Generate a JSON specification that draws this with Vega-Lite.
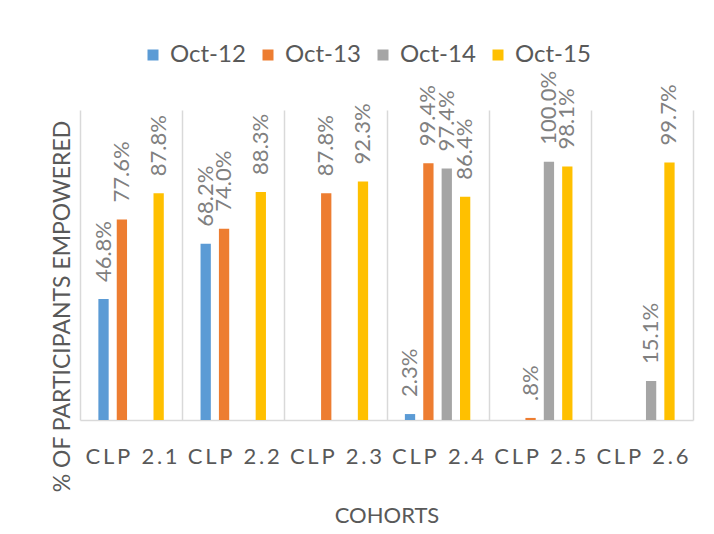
{
  "$schema": "https://vega.github.io/schema/vega-lite/v6.json",
  "autosize": {"type": "none"},
  "width": 613,
  "height": 310,
  "padding": {"left": 80, "top": 110, "right": 21, "bottom": 114},
  "background": "white",
  "config": {
    "font": "Lato",
    "view": {"stroke": null}
  },
  "data": {
    "values": [
      {"cohort": "CLP 2.1", "period": "Oct-12", "value": 0.468, "label": "46.8%"},
      {"cohort": "CLP 2.1", "period": "Oct-13", "value": 0.776, "label": "77.6%"},
      {"cohort": "CLP 2.1", "period": "Oct-15", "value": 0.878, "label": "87.8%"},
      {"cohort": "CLP 2.2", "period": "Oct-12", "value": 0.682, "label": "68.2%"},
      {"cohort": "CLP 2.2", "period": "Oct-13", "value": 0.740, "label": "74.0%"},
      {"cohort": "CLP 2.2", "period": "Oct-15", "value": 0.883, "label": "88.3%"},
      {"cohort": "CLP 2.3", "period": "Oct-13", "value": 0.878, "label": "87.8%"},
      {"cohort": "CLP 2.3", "period": "Oct-15", "value": 0.923, "label": "92.3%"},
      {"cohort": "CLP 2.4", "period": "Oct-12", "value": 0.023, "label": "2.3%"},
      {"cohort": "CLP 2.4", "period": "Oct-13", "value": 0.994, "label": "99.4%"},
      {"cohort": "CLP 2.4", "period": "Oct-14", "value": 0.974, "label": "97.4%"},
      {"cohort": "CLP 2.4", "period": "Oct-15", "value": 0.864, "label": "86.4%"},
      {"cohort": "CLP 2.5", "period": "Oct-13", "value": 0.008, "label": ".8%"},
      {"cohort": "CLP 2.5", "period": "Oct-14", "value": 1.000, "label": "100.0%"},
      {"cohort": "CLP 2.5", "period": "Oct-15", "value": 0.981, "label": "98.1%"},
      {"cohort": "CLP 2.6", "period": "Oct-14", "value": 0.151, "label": "15.1%"},
      {"cohort": "CLP 2.6", "period": "Oct-15", "value": 0.997, "label": "99.7%"}
    ]
  },
  "encoding": {
    "x": {
      "field": "cohort",
      "type": "nominal",
      "sort": null,
      "scale": {"paddingInner": 0, "paddingOuter": 0},
      "axis": {
        "title": "COHORTS",
        "titleFont": "Lato",
        "titleFontSize": 22,
        "titleFontWeight": "normal",
        "titleColor": "#595959",
        "titlePadding": 38,
        "labelAngle": 0,
        "labelFont": "Lato",
        "labelFontSize": 22,
        "labelColor": "#595959",
        "labelPadding": 26,
        "labelExpr": "join(split(datum.label, ''), '\u2009')",
        "ticks": false,
        "tickBand": "extent",
        "grid": true,
        "gridColor": "#d9d9d9",
        "gridWidth": 1.5,
        "domainColor": "#d9d9d9",
        "domainWidth": 1.5
      }
    },
    "xOffset": {
      "field": "period",
      "type": "nominal",
      "scale": {"domain": ["Oct-12", "Oct-13", "Oct-14", "Oct-15"], "paddingInner": 0.44, "paddingOuter": 1.15}
    },
    "y": {
      "field": "value",
      "type": "quantitative",
      "scale": {"domain": [0, 1.2], "nice": false},
      "axis": {
        "title": "% OF PARTICIPANTS EMPOWERED",
        "titleFont": "Lato",
        "titleFontSize": 23,
        "titleFontWeight": "normal",
        "titleColor": "#595959",
        "titleX": -18,
        "titleY": 196,
        "titleAngle": -90,
        "titleAlign": "center",
        "titleBaseline": "middle",
        "labels": false,
        "ticks": false,
        "domain": false,
        "grid": false
      }
    }
  },
  "layer": [
    {
      "mark": {"type": "bar"},
      "encoding": {
        "color": {
          "field": "period",
          "type": "nominal",
          "scale": {"domain": ["Oct-12", "Oct-13", "Oct-14", "Oct-15"], "range": ["#5B9BD5", "#ED7D31", "#A5A5A5", "#FFC000"]},
          "legend": {
            "title": null,
            "orient": "none",
            "direction": "horizontal",
            "legendX": 61,
            "legendY": -67,
            "symbolType": "square",
            "symbolSize": 121,
            "symbolStrokeWidth": 0,
            "labelFont": "Lato",
            "labelFontSize": 24,
            "labelColor": "#595959",
            "labelOffset": 5,
            "columnPadding": 10,
            "padding": 0
          }
        }
      }
    },
    {
      "mark": {"type": "text", "angle": -90, "align": "left", "baseline": "middle", "dx": 17, "font": "Lato", "fontSize": 22, "color": "#808080"},
      "encoding": {
        "text": {"field": "label"}
      }
    }
  ]
}
